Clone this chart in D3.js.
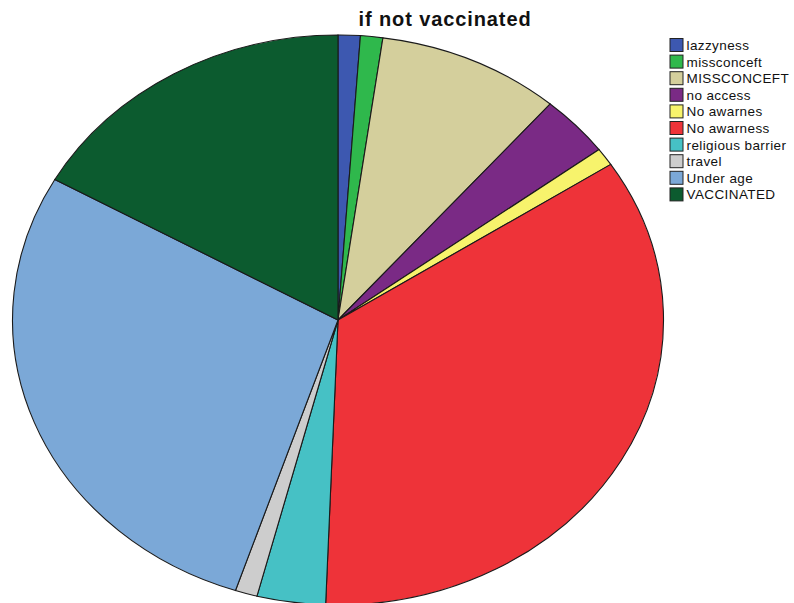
<!DOCTYPE html>
<html>
<head>
<meta charset="utf-8">
<script src="https://cdn.jsdelivr.net/npm/d3@7"></script>
<style>
  html, body { margin: 0; padding: 0; background: #ffffff; }
  svg { display: block; }
</style>
</head>
<body>
<svg id="chart" width="794" height="603"></svg>
<script>
// Reasons given when not vaccinated (percent of respondents)
const categories = ["lazzyness", "missconceft", "MISSCONCEFT", "no access", "No awarnes",
                    "No awarness", "religious barrier", "travel", "Under age", "VACCINATED"];
const percents = [1.1, 1.1, 9.1, 3.5, 1.0, 34.8, 3.4, 1.1, 28.1, 16.8];
const colors = ["#3d58b0", "#2fb84c", "#d4cf9c", "#7a2a85", "#f7f36c",
                "#ee3339", "#46c1c5", "#cdcdcd", "#7ba8d7", "#0c5b2f"];
const title = "if not vaccinated";

const svg = d3.select("#chart");

// Elliptical pie: drawn as a unit circle then stretched
const cx = 338, cy = 320, rx = 325.5, ry = 285;

const data = categories.map((c, i) => ({ name: c, value: percents[i], color: colors[i] }));
const pie = d3.pie().value(d => d.value).sort(null);
const arc = d3.arc().innerRadius(0).outerRadius(1);

const g = svg.append("g")
  .attr("transform", `translate(${cx},${cy}) scale(${rx},${ry})`);

g.selectAll("path")
  .data(pie(data))
  .join("path")
  .attr("d", arc)
  .attr("fill", d => d.data.color)
  .attr("stroke", "#1a1a1a")
  .attr("stroke-width", 1.1)
  .attr("vector-effect", "non-scaling-stroke");

// Title
svg.append("text")
  .attr("x", 445)
  .attr("y", 26)
  .attr("text-anchor", "middle")
  .attr("font-family", "Liberation Sans, Arial, sans-serif")
  .attr("font-weight", "bold")
  .attr("font-size", 20)
  .attr("letter-spacing", 0.9)
  .attr("fill", "#111")
  .text(title);

// Legend
const legend = svg.append("g").attr("transform", "translate(670,38.5)");
const rowH = 16.6;
const rows = legend.selectAll("g")
  .data(data)
  .join("g")
  .attr("transform", (d, i) => `translate(0,${i * rowH})`);

rows.append("rect")
  .attr("x", 0).attr("y", 0)
  .attr("width", 13).attr("height", 13)
  .attr("fill", d => d.color)
  .attr("stroke", "#222")
  .attr("stroke-width", 1);

rows.append("text")
  .attr("x", 16.5)
  .attr("y", 11.5)
  .attr("font-family", "Liberation Sans, Arial, sans-serif")
  .attr("font-size", 13.5)
  .attr("letter-spacing", 0.4)
  .attr("fill", "#111")
  .text(d => d.name);
</script>
</body>
</html>
